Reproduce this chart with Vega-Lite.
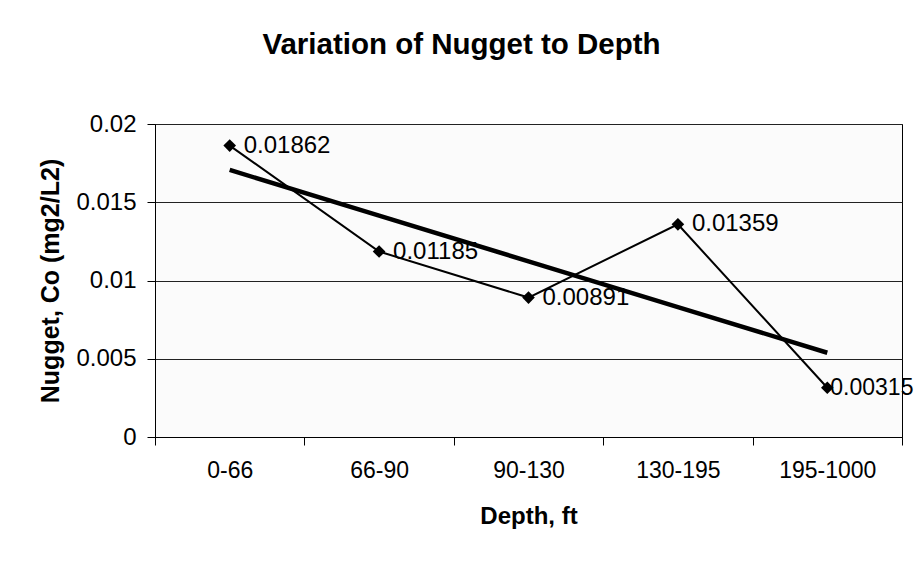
{
  "$schema": "https://vega.github.io/schema/vega-lite/v6.json",
  "width": 747,
  "height": 313,
  "autosize": "none",
  "padding": {"left": 155, "top": 124, "right": 15, "bottom": 125},
  "background": "white",
  "title": {
    "text": "Variation of Nugget to Depth",
    "font": "Liberation Sans",
    "fontSize": 29.5,
    "fontWeight": "bold",
    "color": "black",
    "anchor": "middle",
    "dx": -67,
    "offset": 52
  },
  "config": {
    "view": {"stroke": "black", "strokeWidth": 1, "fill": "#fbfbfb"},
    "font": "Liberation Sans"
  },
  "data": {
    "values": [
      {"depth": "0-66", "nugget": 0.01862, "trend": 0.017064},
      {"depth": "66-90", "nugget": 0.01185, "trend": 0.014144},
      {"depth": "90-130", "nugget": 0.00891, "trend": 0.011224},
      {"depth": "130-195", "nugget": 0.01359, "trend": 0.008304},
      {"depth": "195-1000", "nugget": 0.00315, "trend": 0.005384}
    ]
  },
  "encoding": {
    "x": {
      "field": "depth",
      "type": "ordinal",
      "sort": null,
      "scale": {"paddingInner": 0, "paddingOuter": 0},
      "axis": {
        "title": "Depth, ft",
        "titleFont": "Liberation Sans",
        "titleFontSize": 24,
        "titleFontWeight": "bold",
        "titleColor": "black",
        "titlePadding": 22,
        "labelFont": "Liberation Sans",
        "labelFontSize": 23,
        "labelColor": "black",
        "labelAngle": 0,
        "labelPadding": 14,
        "tickBand": "extent",
        "tickSize": 8,
        "tickColor": "black",
        "domainColor": "black",
        "grid": false
      }
    }
  },
  "layer": [
    {
      "mark": {"type": "line", "color": "black", "strokeWidth": 4.5},
      "encoding": {
        "y": {"field": "trend", "type": "quantitative"}
      }
    },
    {
      "mark": {"type": "line", "color": "black", "strokeWidth": 2},
      "encoding": {
        "y": {
          "field": "nugget",
          "type": "quantitative",
          "scale": {"domain": [0, 0.02], "nice": false},
          "axis": {
            "title": "Nugget, Co (mg2/L2)",
            "titleFont": "Liberation Sans",
            "titleFontSize": 25,
            "titleFontWeight": "bold",
            "titleColor": "black",
            "titlePadding": 12,
            "labelFont": "Liberation Sans",
            "labelFontSize": 24,
            "labelColor": "black",
            "labelPadding": 11,
            "values": [0, 0.005, 0.01, 0.015, 0.02],
            "format": "~g",
            "tickSize": 8,
            "tickColor": "black",
            "domainColor": "black",
            "grid": true,
            "gridColor": "#222",
            "gridWidth": 1
          }
        }
      }
    },
    {
      "mark": {"type": "point", "shape": "diamond", "filled": true, "color": "black", "size": 160, "opacity": 1},
      "encoding": {
        "y": {"field": "nugget", "type": "quantitative"}
      }
    },
    {
      "transform": [{"filter": "datum.depth != '195-1000'"}],
      "mark": {"type": "text", "align": "left", "baseline": "middle", "dx": 14, "dy": 0, "fontSize": 24, "font": "Liberation Sans", "color": "black"},
      "encoding": {
        "y": {"field": "nugget", "type": "quantitative"},
        "text": {"field": "nugget", "type": "quantitative", "format": ".5f"}
      }
    },
    {
      "transform": [{"filter": "datum.depth == '195-1000'"}],
      "mark": {"type": "text", "align": "left", "baseline": "middle", "dx": 3, "dy": 0, "fontSize": 23, "font": "Liberation Sans", "color": "black"},
      "encoding": {
        "y": {"field": "nugget", "type": "quantitative"},
        "text": {"field": "nugget", "type": "quantitative", "format": ".5f"}
      }
    }
  ]
}
